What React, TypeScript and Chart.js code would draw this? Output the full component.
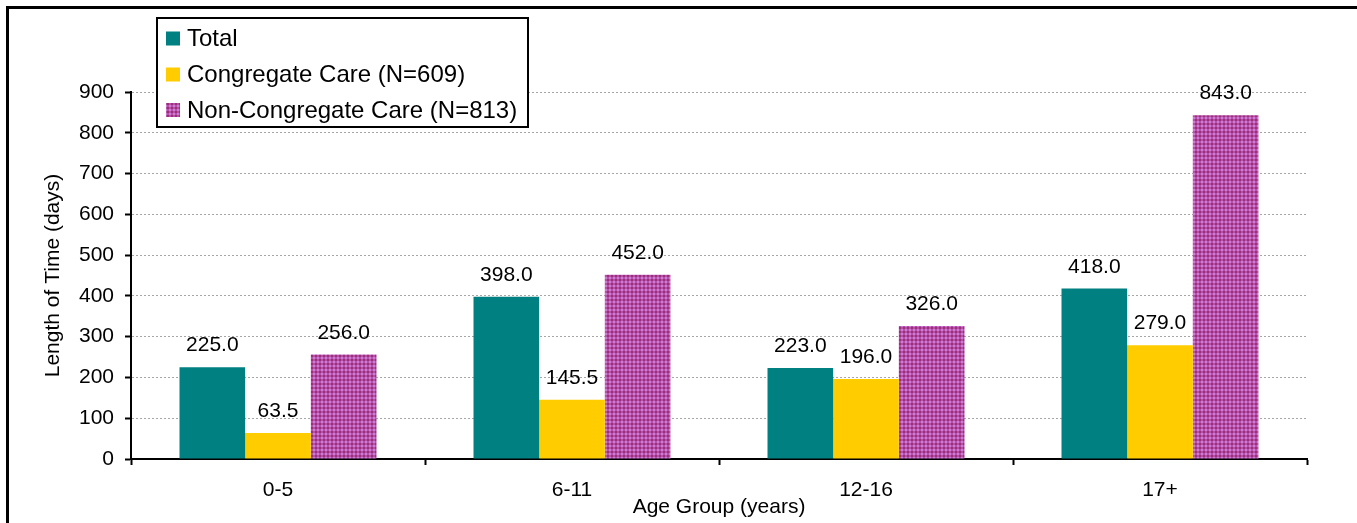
import React, { useEffect, useRef } from 'react';
import { Chart, registerables } from 'chart.js';

Chart.register(...registerables);

const categories = ['0-5', '6-11', '12-16', '17+'];
const seriesLabels = ['Total', 'Congregate Care (N=609)', 'Non-Congregate Care (N=813)'];
const totalValues = [225.0, 398.0, 223.0, 418.0];
const congregateValues = [63.5, 145.5, 196.0, 279.0];
const nonCongregateValues = [256.0, 452.0, 326.0, 843.0];
const yMin = 0;
const yMax = 900;
const yStep = 100;
const xTitle = 'Age Group (years)';
const yTitle = 'Length of Time (days)';

const FONT = '"Liberation Sans", Arial, Helvetica, sans-serif';

function makePattern(): CanvasPattern | string {
  const c = document.createElement('canvas');
  c.width = 4;
  c.height = 4;
  const g = c.getContext('2d');
  if (!g) return '#A8408A';
  g.fillStyle = '#9E2D7C';
  g.fillRect(0, 0, 4, 4);
  g.fillStyle = '#B452A6';
  g.fillRect(0, 1, 4, 2);
  g.fillRect(1, 0, 2, 4);
  g.fillStyle = '#CD7ADA';
  g.fillRect(1, 1, 2, 2);
  const p = g.createPattern(c, 'repeat');
  return p || '#A8408A';
}

const framePlugin = {
  id: 'frame',
  afterDraw(chart: any) {
    const ctx = chart.ctx;
    ctx.save();
    ctx.lineWidth = 3;
    ctx.strokeStyle = '#000';
    ctx.beginPath();
    ctx.moveTo(7.5, chart.height + 5);
    ctx.lineTo(7.5, 7.5);
    ctx.lineTo(chart.width + 5, 7.5);
    ctx.stroke();
    ctx.restore();
  },
};

const valueLabelPlugin = {
  id: 'valueLabels',
  afterDatasetsDraw(chart: any) {
    const ctx = chart.ctx;
    ctx.save();
    ctx.font = `21px ${FONT}`;
    ctx.fillStyle = '#000';
    ctx.textAlign = 'center';
    ctx.textBaseline = 'alphabetic';
    chart.data.datasets.forEach((ds: any, i: number) => {
      const meta = chart.getDatasetMeta(i);
      meta.data.forEach((el: any, j: number) => {
        const v = ds.data[j];
        ctx.fillText(Number(v).toFixed(1), el.x, el.y - 16);
      });
    });
    ctx.restore();
  },
};

const boxLegendPlugin = {
  id: 'boxLegend',
  afterDraw(chart: any) {
    const ctx = chart.ctx;
    const left = 157;
    const top = 18;
    const w = 371;
    const h = 109;
    ctx.save();
    ctx.fillStyle = '#fff';
    ctx.fillRect(left, top, w, h);
    ctx.lineWidth = 2;
    ctx.strokeStyle = '#000';
    ctx.strokeRect(left, top, w, h);
    ctx.font = `24px ${FONT}`;
    ctx.textAlign = 'left';
    ctx.textBaseline = 'middle';
    const rows = [38.5, 74.5, 110];
    chart.data.datasets.forEach((ds: any, i: number) => {
      const cy = rows[i];
      ctx.fillStyle = ds.backgroundColor;
      ctx.fillRect(166, cy - 7, 14, 14);
      ctx.fillStyle = '#000';
      ctx.fillText(ds.label, 187, cy + 1);
    });
    ctx.restore();
  },
};

export default function App() {
  const ref = useRef<HTMLCanvasElement | null>(null);

  useEffect(() => {
    if (!ref.current) return;
    const pattern = makePattern();
    const chart = new Chart(ref.current, {
      type: 'bar',
      data: {
        labels: categories,
        datasets: [
          { label: seriesLabels[0], data: totalValues, backgroundColor: '#008080', borderWidth: 0 },
          { label: seriesLabels[1], data: congregateValues, backgroundColor: '#FFCC00', borderWidth: 0 },
          { label: seriesLabels[2], data: nonCongregateValues, backgroundColor: pattern as any, borderWidth: 0 },
        ],
      },
      options: {
        animation: false,
        responsive: false,
        maintainAspectRatio: false,
        devicePixelRatio: 1,
        layout: { padding: { left: 0, right: 50, top: 92, bottom: 0 } },
        datasets: {
          bar: { categoryPercentage: 0.67, barPercentage: 1.0 },
        },
        plugins: {
          legend: { display: false },
          tooltip: { enabled: false },
          title: { display: false },
        },
        scales: {
          x: {
            offset: true,
            grid: {
              display: true,
              drawOnChartArea: false,
              drawTicks: true,
              offset: true,
              tickLength: 6,
              tickColor: '#000',
              tickWidth: 2,
            },
            border: { display: true, color: '#000', width: 2 },
            ticks: {
              color: '#000',
              font: { family: FONT, size: 21 },
              padding: 13,
              maxRotation: 0,
            },
            title: {
              display: true,
              text: xTitle,
              color: '#000',
              font: { family: FONT, size: 21 },
              padding: { top: 0, bottom: 3 },
            },
            afterFit: (scale: any) => {
              scale.height = 64;
            },
          },
          y: {
            min: yMin,
            max: yMax,
            grid: {
              display: true,
              drawOnChartArea: true,
              color: '#a6a6a6',
              lineWidth: 1,
              tickLength: 6,
              tickColor: '#000',
              tickWidth: 2,
            },
            border: { display: true, color: '#000', width: 2, dash: [2, 2] },
            ticks: {
              stepSize: yStep,
              color: '#000',
              font: { family: FONT, size: 21 },
              padding: 11,
            },
            title: {
              display: true,
              text: yTitle,
              color: '#000',
              font: { family: FONT, size: 21 },
              padding: { top: 41, bottom: 0 },
            },
            afterFit: (scale: any) => {
              scale.width = 131;
            },
          },
        },
      },
      plugins: [valueLabelPlugin, boxLegendPlugin, framePlugin],
    });
    return () => chart.destroy();
  }, []);

  return (
    <div style={{ position: 'fixed', left: 0, top: 0, width: 1357, height: 523, background: '#fff' }}>
      <canvas ref={ref} width={1357} height={523} />
    </div>
  );
}
